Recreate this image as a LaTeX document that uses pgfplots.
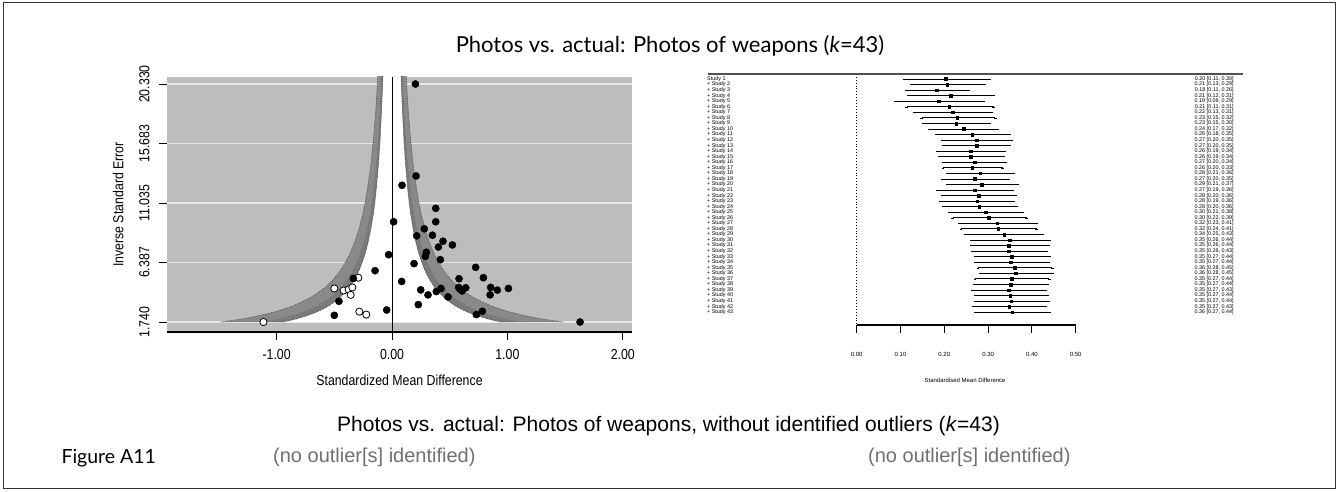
\documentclass[border=0pt]{standalone}
\usepackage{fontspec}
\setmainfont{Liberation Sans}
\newfontfamily\narrowsf[FakeStretch=0.85]{Liberation Sans}
\newfontfamily\capfont{Lato}
\usepackage{pgfplots}
\usepackage{pgfplotstable}
\pgfplotsset{compat=1.18}

\definecolor{bggray}{HTML}{BDBDBD}
\definecolor{bandA}{HTML}{7A7A7A}
\definecolor{bandB}{HTML}{898989}
\definecolor{gridw}{HTML}{E8E8E8}
\definecolor{notegray}{HTML}{707070}
\definecolor{rulegray}{HTML}{505050}

% funnel contours: half-widths z/p for z = 1.645, 1.960, 2.576
\pgfplotstableread{
p     a      b      c
1.74  0.9454 1.1264 1.4805
1.85  0.8892 1.0595 1.3924
2.00  0.8225 0.9800 1.2880
2.25  0.7311 0.8711 1.1449
2.50  0.6580 0.7840 1.0304
2.75  0.5982 0.7127 0.9367
3.00  0.5483 0.6533 0.8587
3.50  0.4700 0.5600 0.7360
4.00  0.4113 0.4900 0.6440
4.50  0.3656 0.4356 0.5724
5.00  0.3290 0.3920 0.5152
5.50  0.2991 0.3564 0.4684
6.00  0.2742 0.3267 0.4293
7.00  0.2350 0.2800 0.3680
8.00  0.2056 0.2450 0.3220
9.00  0.1828 0.2178 0.2862
10.0  0.1645 0.1960 0.2576
11.0  0.1495 0.1782 0.2342
12.0  0.1371 0.1633 0.2147
14.0  0.1175 0.1400 0.1840
16.0  0.1028 0.1225 0.1610
18.0  0.0914 0.1089 0.1431
20.0  0.0823 0.0980 0.1288
22.0  0.0748 0.0891 0.1171
}\contours

% half of the inner (white) region, x >= 0
\pgfplotstableread{
x      p
0      1.74
0.9454 1.74
0.8892 1.85
0.8225 2.00
0.7311 2.25
0.6580 2.50
0.5982 2.75
0.5483 3.00
0.4700 3.50
0.4113 4.00
0.3656 4.50
0.3290 5.00
0.2991 5.50
0.2742 6.00
0.2350 7.00
0.2056 8.00
0.1828 9.00
0.1645 10.0
0.1495 11.0
0.1371 12.0
0.1175 14.0
0.1028 16.0
0.0914 18.0
0.0823 20.0
0.0748 22.0
0      22.0
}\innerhalf

% band between z = 1.645 and z = 1.960, x >= 0
\pgfplotstableread{
x      p
0.9454 1.74
0.8892 1.85
0.8225 2.00
0.7311 2.25
0.6580 2.50
0.5982 2.75
0.5483 3.00
0.4700 3.50
0.4113 4.00
0.3656 4.50
0.3290 5.00
0.2991 5.50
0.2742 6.00
0.2350 7.00
0.2056 8.00
0.1828 9.00
0.1645 10.0
0.1495 11.0
0.1371 12.0
0.1175 14.0
0.1028 16.0
0.0914 18.0
0.0823 20.0
0.0748 22.0
0.0891 22.0
0.0980 20.0
0.1089 18.0
0.1225 16.0
0.1400 14.0
0.1633 12.0
0.1782 11.0
0.1960 10.0
0.2178 9.00
0.2450 8.00
0.2800 7.00
0.3267 6.00
0.3564 5.50
0.3920 5.00
0.4356 4.50
0.4900 4.00
0.5600 3.50
0.6533 3.00
0.7127 2.75
0.7840 2.50
0.8711 2.25
0.9800 2.00
1.0595 1.85
1.1264 1.74
}\bandone

% band between z = 1.960 and z = 2.576, x >= 0
\pgfplotstableread{
x      p
1.1264 1.74
1.0595 1.85
0.9800 2.00
0.8711 2.25
0.7840 2.50
0.7127 2.75
0.6533 3.00
0.5600 3.50
0.4900 4.00
0.4356 4.50
0.3920 5.00
0.3564 5.50
0.3267 6.00
0.2800 7.00
0.2450 8.00
0.2178 9.00
0.1960 10.0
0.1782 11.0
0.1633 12.0
0.1400 14.0
0.1225 16.0
0.1089 18.0
0.0980 20.0
0.0891 22.0
0.1171 22.0
0.1288 20.0
0.1431 18.0
0.1610 16.0
0.1840 14.0
0.2147 12.0
0.2342 11.0
0.2576 10.0
0.2862 9.00
0.3220 8.00
0.3680 7.00
0.4293 6.00
0.4684 5.50
0.5152 5.00
0.5724 4.50
0.6440 4.00
0.7360 3.50
0.8587 3.00
0.9367 2.75
1.0304 2.50
1.1449 2.25
1.2880 2.00
1.3924 1.85
1.4805 1.74
}\bandtwo

% observed studies
\pgfplotstableread{
d      prec
0.203  20.33
0.209  13.15
0.087  12.42
0.379  10.62
0.379  9.57
0.014  9.57
0.280  9.02
0.350  8.52
0.214  8.47
0.442  8.05
0.523  7.76
0.402  7.60
0.298  7.19
0.289  6.87
0.419  6.61
-0.029 7.00
0.191  6.30
0.725  6.01
-0.147 5.75
0.792  5.20
0.581  5.12
0.084  4.91
-0.335 5.14
0.578  4.44
0.639  4.41
0.607  4.17
0.590  4.30
0.855  4.44
0.913  4.23
1.009  4.36
0.850  3.86
0.425  4.36
0.384  4.12
0.249  4.25
0.312  3.86
0.486  3.70
0.228  3.10
-0.460 3.36
-0.500 2.26
-0.046 2.68
0.783  2.58
0.731  2.32
1.630  1.74
}\observed

% imputed studies
\pgfplotstableread{
d      prec
-0.292 5.20
-0.500 4.36
-0.419 4.20
-0.376 4.28
-0.344 4.44
-0.358 3.86
-0.283 2.55
-0.223 2.32
-1.114 1.74
}\imputed

% cumulative estimates
\pgfplotstableread{
row est   lo    hi
1  0.203 0.108 0.303
2  0.207 0.126 0.291
3  0.183 0.113 0.256
4  0.214 0.118 0.313
5  0.187 0.088 0.289
6  0.211 0.114 0.313
7  0.219 0.131 0.309
8  0.229 0.148 0.316
9  0.227 0.152 0.304
10 0.244 0.167 0.322
11 0.264 0.183 0.348
12 0.274 0.196 0.354
13 0.274 0.199 0.349
14 0.260 0.185 0.337
15 0.260 0.189 0.336
16 0.269 0.197 0.341
17 0.264 0.197 0.333
18 0.282 0.208 0.358
19 0.270 0.196 0.347
20 0.286 0.206 0.368
21 0.270 0.185 0.355
22 0.279 0.196 0.363
23 0.275 0.191 0.358
24 0.280 0.198 0.364
25 0.295 0.212 0.379
26 0.302 0.219 0.388
27 0.321 0.234 0.411
28 0.323 0.238 0.411
29 0.337 0.249 0.425
30 0.349 0.262 0.441
31 0.347 0.262 0.438
32 0.347 0.263 0.434
33 0.354 0.270 0.440
34 0.351 0.270 0.438
35 0.361 0.277 0.447
36 0.363 0.282 0.447
37 0.354 0.270 0.440
38 0.351 0.268 0.435
39 0.347 0.265 0.432
40 0.350 0.270 0.435
41 0.353 0.272 0.438
42 0.348 0.266 0.432
43 0.355 0.272 0.440
}\cumulative

\begin{document}
\begin{tikzpicture}
\useasboundingbox (0pt,0pt) rectangle (1338pt,492pt);
\draw[line width=1pt, black!80] (3pt,3pt) rectangle (1335pt,489pt);

\node[font=\capfont\fontsize{22}{26}\selectfont] at (670pt,446pt) {Photos vs. actual: Photos of weapons (\textit{k}=43)};

% ---------------- funnel plot ----------------
\begin{axis}[
  at={(167pt,160pt)}, anchor=south west,
  scale only axis, width=465pt, height=255pt,
  xmin=-1.95, xmax=2.08, ymin=0.96, ymax=20.88,
  axis x line*=bottom, axis y line*=left,
  axis background/.style={fill=bggray},
  y axis line style={draw=none},
  x axis line style={line width=1.2pt},
  tick align=outside, major tick length=8pt,
  tick style={black, line width=1pt},
  xtick={-1,0,1,2}, xticklabels={-1.00,0.00,1.00,2.00},
  ytick={1.740,6.387,11.035,15.683,20.330},
  yticklabels={1.740,6.387,11.035,15.683,20.330},
  ymajorgrids, major grid style={gridw, line width=1.4pt},
  ticklabel style={font=\narrowsf\fontsize{14.5}{16}\selectfont},
  yticklabel style={xshift=-6pt, rotate=90, anchor=south},
  xticklabel style={yshift=-6pt},
  xlabel={Standardized Mean Difference},
  ylabel={Inverse Standard Error},
  label style={font=\narrowsf\fontsize{14.5}{16}\selectfont},
  xlabel style={at={(axis description cs:0.5,-0.188)}, anchor=center},
  ylabel style={at={(axis description cs:-0.105,0.5)}, anchor=center},
]
\addplot[fill=white, draw=none] table[x=x, y=p] {\innerhalf};
\addplot[fill=white, draw=none] table[x expr=-\thisrow{x}, y=p] {\innerhalf};
\addplot[fill=bandA, draw=none] table[x=x, y=p] {\bandone};
\addplot[fill=bandA, draw=none] table[x expr=-\thisrow{x}, y=p] {\bandone};
\addplot[fill=bandB, draw=none] table[x=x, y=p] {\bandtwo};
\addplot[fill=bandB, draw=none] table[x expr=-\thisrow{x}, y=p] {\bandtwo};
\addplot[densely dotted, line width=0.7pt, black!70] table[x expr=-\thisrow{a}, y=p] {\contours};
\addplot[densely dotted, line width=0.7pt, black!70] table[x=a, y=p] {\contours};
\addplot[densely dotted, line width=0.5pt, black!55] table[x expr=-\thisrow{b}, y=p] {\contours};
\addplot[densely dotted, line width=0.5pt, black!55] table[x=b, y=p] {\contours};
\addplot[densely dotted, line width=0.7pt, black!70] table[x expr=-\thisrow{c}, y=p] {\contours};
\addplot[densely dotted, line width=0.7pt, black!70] table[x=c, y=p] {\contours};
\addplot[black, line width=1pt] coordinates {(0,0.96) (0,20.88)};
\addplot[only marks, mark=*, mark size=3.6pt, mark options={fill=white, draw=black, line width=0.8pt}] table[x=d, y=prec] {\imputed};
\addplot[only marks, mark=*, mark size=3.6pt, black] table[x=d, y=prec] {\observed};
\end{axis}

% ---------------- cumulative forest plot ----------------
\begin{axis}[
  at={(856.7pt,167pt)}, anchor=south west,
  scale only axis, width=219pt, height=251pt,
  xmin=0, xmax=0.5, ymin=0.1, ymax=45.3, y dir=reverse,
  clip=false,
  axis x line*=bottom, axis y line*=left,
  x axis line style={line width=1.1pt},
  y axis line style={dotted, line width=0.9pt},
  tick align=outside, major tick length=8pt,
  xtick style={black, line width=1pt},
  ytick style={draw=none},
  xtick={0,0.1,0.2,0.3,0.4,0.5},
  xticklabels={0.00,0.10,0.20,0.30,0.40,0.50},
  xticklabel style={font=\fontsize{6}{7}\selectfont, yshift=-16pt},
  ytick={1,...,43},
  yticklabels={Study 1, + Study 2, + Study 3, + Study 4, + Study 5, + Study 6, + Study 7, + Study 8, + Study 9, + Study 10, + Study 11, + Study 12, + Study 13, + Study 14, + Study 15, + Study 16, + Study 17, + Study 18, + Study 19, + Study 20, + Study 21, + Study 22, + Study 23, + Study 24, + Study 25, + Study 26, + Study 27, + Study 28, + Study 29, + Study 30, + Study 31, + Study 32, + Study 33, + Study 34, + Study 35, + Study 36, + Study 37, + Study 38, + Study 39, + Study 40, + Study 41, + Study 42, + Study 43},
  yticklabel style={font=\fontsize{5.4}{5.5}\selectfont, anchor=west, inner sep=0pt, xshift=-141.7pt},
  xlabel={Standardised Mean Difference},
  xlabel style={font=\fontsize{6}{7}\selectfont, at={(axis description cs:0.495,-0.219)}, anchor=center},
  /pgf/number format/assume math mode=true,
]
\draw[line width=2pt, rulegray] (axis cs:-0.34,0.1) -- (axis cs:0.882,0.1);
\addplot[only marks, mark=square*, mark size=1.3pt, black,
  error bars/.cd, x dir=both, x explicit,
  error bar style={line width=0.9pt, black},
  error mark options={mark size=1.4pt, line width=0.5pt, black}]
  table[x=est, y=row, x error plus expr=\thisrow{hi}-\thisrow{est}, x error minus expr=\thisrow{est}-\thisrow{lo}] {\cumulative};
\addplot[draw=none, mark=none,
  visualization depends on={\thisrow{est} \as \vest},
  visualization depends on={\thisrow{lo} \as \vlo},
  visualization depends on={\thisrow{hi} \as \vhi},
  nodes near coords={\pgfmathprintnumber[fixed,fixed zerofill,precision=2]{\vest} [\pgfmathprintnumber[fixed,fixed zerofill,precision=2]{\vlo}, \pgfmathprintnumber[fixed,fixed zerofill,precision=2]{\vhi}]},
  nodes near coords style={anchor=east, inner sep=0pt, font=\fontsize{5.4}{5.5}\selectfont}]
  table[x expr=0.861, y=row] {\cumulative};
\end{axis}

\node[font=\fontsize{21}{24}\selectfont, anchor=west, inner sep=0pt] at (337pt,66pt) {Photos vs. actual: Photos of weapons, without identified outliers (\textit{k}=43)};
\node[font=\fontsize{20}{23}\selectfont, text=notegray, anchor=west, inner sep=0pt] at (273pt,35pt) {(no outlier[s] identified)};
\node[font=\fontsize{20}{23}\selectfont, text=notegray, anchor=west, inner sep=0pt] at (868pt,35pt) {(no outlier[s] identified)};
\node[font=\capfont\fontsize{19.5}{22}\selectfont, anchor=west] at (58pt,34pt) {Figure A11};
\end{tikzpicture}
\end{document}
